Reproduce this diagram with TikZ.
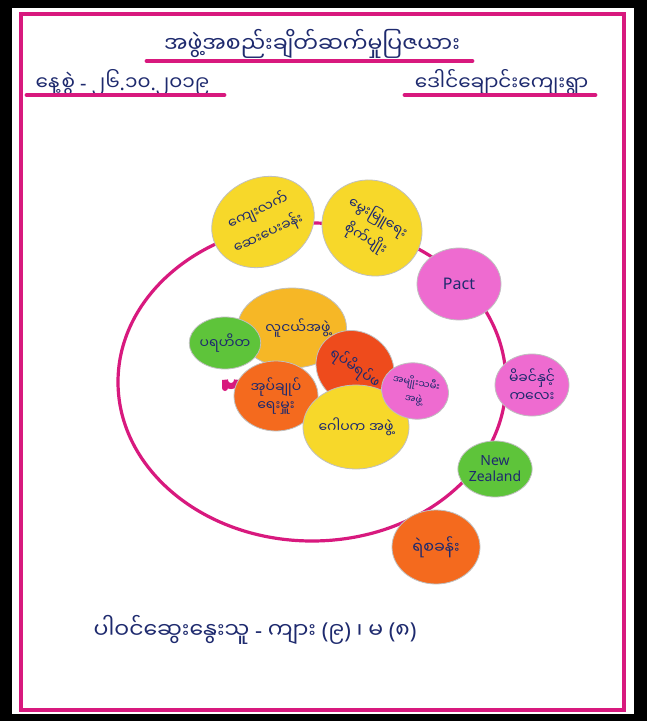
\documentclass[tikz,border=0pt]{standalone}
\usepackage{fontspec}
\usepackage{xcolor}
\usetikzlibrary{shapes.geometric}
\setmainfont{Noto Sans}
\newfontfamily\mmfont[Script=Myanmar]{Noto Sans Myanmar UI}
\newcommand\mm[1]{{\mmfont #1}}
\definecolor{inkpink}{HTML}{D8197E}
\definecolor{paperyel}{HTML}{F7D82A}
\definecolor{paperorg}{HTML}{F46A1E}
\definecolor{paperred}{HTML}{EE4B1C}
\definecolor{paperpnk}{HTML}{EE6BD0}
\definecolor{papergrn}{HTML}{5EC43A}
\definecolor{pen}{HTML}{1E2A6E}

\begin{document}
\begin{tikzpicture}[x=0.5pt, y=-0.5pt,
    every node/.style={text=pen, align=center},
    disc/.style={draw=black!25, ellipse, inner sep=0pt, font=\scriptsize},
    ring/.style={draw=inkpink, line width=1.6pt},
    uline/.style={draw=inkpink, line width=2.4pt, line cap=round}]
            \footnotesize
            % paper and frame
            \fill[black] (0,0) rectangle (647,721);
            \fill[white] (12,8) rectangle (634,714);
            \draw[inkpink, line width=2pt] (21,14) rectangle (624,710);
            \useasboundingbox (0,0) rectangle (647,721);

            % heading
            \node (title) at (312,44) {\fontsize{11}{13}\selectfont\mm{အဖွဲ့အစည်းချိတ်ဆက်မှုပြဇယား}};
            \draw[uline] (147,61) -- (472,61);
            \node[anchor=west, font=\normalsize] (date) at (30,83) {\mm{နေ့စွဲ} - \mm{၂၆}.\mm{၁၀}.\mm{၂၀၁၉}};
            \draw[uline] (27,95) -- (224,95);
            \node[anchor=east, font=\normalsize] (place) at (594,83) {\mm{ဒေါင်ချောင်းကျေးရွာ}};
            \draw[uline] (405,95) -- (595,95);

            % the ring
            \coordinate (hub) at (312,382);
            \draw[ring] (hub) ellipse [x radius=194, y radius=159];
            \draw[inkpink, line width=3pt, line cap=round] (225,388) -- (225,380) arc (180:0:6) -- (237,386);

            % outer discs on the ring
            \node[disc, fill=paperyel, minimum width=46pt, minimum height=44pt, rotate=25] (health) at (263,222) {\mm{ကျေးလက်}\\[2pt]\mm{ဆေးပေးခန်း}};
            \node[disc, fill=paperyel, minimum width=51pt, minimum height=47pt, rotate=-30] (farm) at (372,228) {\mm{မွေးမြူရေး}\\[2pt]\mm{စိုက်ပျိုး}};
            \node[disc, fill=paperpnk, minimum width=42pt, minimum height=36pt, font=\footnotesize] (pact) at (459,284) {Pact};
            \node[disc, fill=paperpnk, minimum width=37pt, minimum height=31pt] (mother) at (532,385) {\mm{မိခင်နှင့်}\\[1pt]\mm{ကလေး}};
            \node[disc, fill=papergrn, minimum width=33pt, minimum height=28pt] (nz) at (495,469) {New\\Zealand};
            \node[disc, fill=paperorg, minimum width=44pt, minimum height=37pt, font=\footnotesize] (police) at (436,547) {\mm{ရဲစခန်း}};

            % inner discs
            \node[disc, fill=paperyel!70!paperorg, minimum width=50pt, minimum height=40pt] (youth) at (292,328) {\hspace{6pt}\mm{လူငယ်အဖွဲ့}};
            \node[disc, fill=papergrn, minimum width=30pt, minimum height=26pt] (charity) at (225,343) {\mm{ပရဟိတ}};
            \node[disc, fill=paperred, minimum width=39pt, minimum height=36pt, rotate=-35] (elders) at (355,368) {\mm{ရပ်မိရပ်ဖ}};
            \node[disc, fill=paperorg, minimum width=42pt, minimum height=35pt] (admin) at (276,396) {\mm{အုပ်ချုပ်}\\[1pt]\mm{ရေးမှူး}};
            \node[disc, fill=paperyel, minimum width=52pt, minimum height=42pt] (trustee) at (356,427) {\mm{ဂေါပက အဖွဲ့}};
            \node[disc, fill=paperpnk, minimum width=31pt, minimum height=28pt, rotate=-10, font=\tiny] (women) at (415,391) {\mm{အမျိုးသမီး}\\[1pt]\mm{အဖွဲ့}};

            % participants
            \node[anchor=west, font=\fontsize{11}{13}\selectfont] (people) at (88,630) {\mm{ပါဝင်ဆွေးနွေးသူ} - \mm{ကျား} (\mm{၉}) \mm{၊} \mm{မ} (\mm{၈})};
\end{tikzpicture}
\end{document}
